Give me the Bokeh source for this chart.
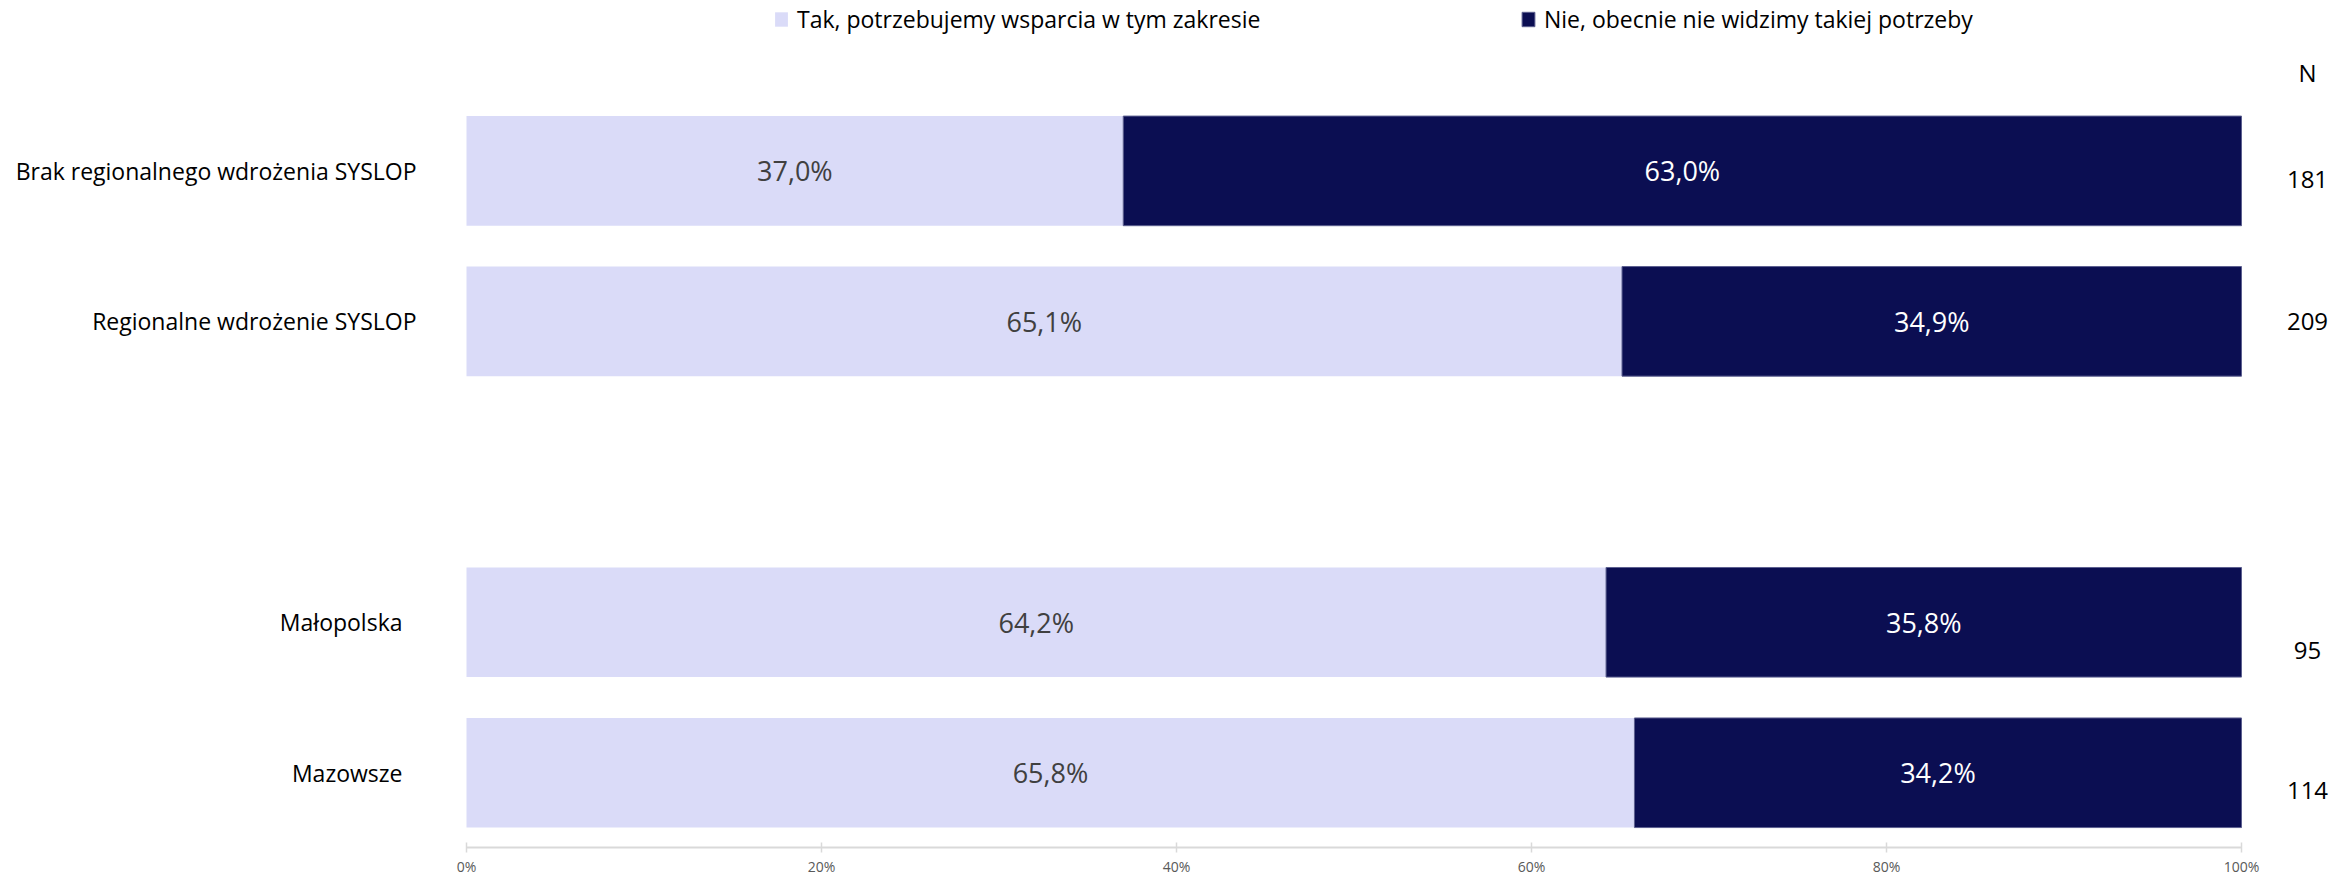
from bokeh.plotting import figure
from bokeh.models import (ColumnDataSource, Range1d, Legend, LegendItem,
                          FixedTicker, NumeralTickFormatter)
from bokeh.core.properties import value
from bokeh.embed import file_html
from bokeh.resources import INLINE

# ---------------- data ----------------
categories = ["Brak regionalnego wdrożenia SYSLOP", "Regionalne wdrożenie SYSLOP",
              "Małopolska", "Mazowsze"]
groups = [0, 0, 1, 1]                      # two blocks of rows, separated by a gap
tak = [37.0, 65.1, 64.2, 65.8]             # Tak, potrzebujemy wsparcia w tym zakresie
nie = [63.0, 34.9, 35.8, 34.2]             # Nie, obecnie nie widzimy takiej potrzeby
n_vals = [181, 209, 95, 114]
series_names = ["Tak, potrzebujemy wsparcia w tym zakresie",
                "Nie, obecnie nie widzimy takiej potrzeby"]
tick_values = [0, 0.2, 0.4, 0.6, 0.8, 1.0]

# ---------------- styles ----------------
LIGHT = "#DADBF8"
DARK = "#0B0E52"
FONT = "Open Sans"
label_pad = [-50, -50, -64, -64]           # px gap between category labels and bars
n_shift = [9, 0, 28, 18]                   # vertical px shift of the N labels

# row positions: rows top-down, one empty slot between the two blocks
n_rows = len(categories)
pos = []
for i, g in enumerate(groups):
    pos.append(float(n_rows - i - g))      # 4, 3, 1, 0

def pct(v):
    return f"{v:.1f}".replace(".", ",") + "%"

tak_f = [v / 100 for v in tak]
nie_f = [v / 100 for v in nie]

src = ColumnDataSource(dict(
    y=pos,
    cat=categories,
    tak=tak_f,
    nie_left=tak_f,
    nie_right=[a + b for a, b in zip(tak_f, nie_f)],
    tak_mid=[a / 2 for a in tak_f],
    nie_mid=[a + b / 2 for a, b in zip(tak_f, nie_f)],
    tak_lbl=[pct(v) for v in tak],
    nie_lbl=[pct(v) for v in nie],
    n=[str(v) for v in n_vals],
    one=[1.0] * n_rows,
    zero=[0.0] * n_rows,
    pad=label_pad,
    nshift=n_shift,
))

W, H = 2335, 878
frame_h = 850
x0 = -466 / 1775
x1 = 1 + (W - 2241) / 1775
y1 = 4 + 171 / 151
y0 = 4 - (frame_h - 171) / 151

p = figure(width=W, height=H, x_range=Range1d(x0, x1), y_range=Range1d(y0, y1),
           output_backend="svg", toolbar_location=None, y_axis_location=None,
           min_border=0, min_border_left=0, min_border_right=0,
           min_border_top=0, min_border_bottom=0)
p.outline_line_color = None
p.xgrid.grid_line_color = None
p.ygrid.grid_line_color = None
p.background_fill_color = "white"

bh = 110 / 151
r1 = p.hbar(y="y", left="zero", right="tak", height=bh, source=src,
            fill_color=LIGHT, line_color=None)
r2 = p.hbar(y="y", left="nie_left", right="nie_right", height=bh, source=src,
            fill_color=DARK, line_color="#5c5f8f", line_width=1)

# value labels
p.text(x="tak_mid", y="y", text="tak_lbl", source=src, text_align="center",
       text_baseline="middle", text_font=value(FONT), text_font_size="27px",
       text_color="#404040")
p.text(x="nie_mid", y="y", text="nie_lbl", source=src, text_align="center",
       text_baseline="middle", text_font=value(FONT), text_font_size="27px",
       text_color="white")

# category labels
p.text(x="zero", y="y", text="cat", source=src, x_offset="pad", text_align="right",
       text_baseline="middle", text_font=value(FONT), text_font_size="23px",
       text_color="#000000")

# N column
p.text(x="one", y="y", text="n", source=src, x_offset=66, y_offset="nshift",
       text_align="center", text_baseline="middle", text_font=value(FONT),
       text_font_size="24px", text_color="#000000")
p.text(x=[1.0], y=[max(pos)], text=["N"], x_offset=66, y_offset=-98,
       text_align="center", text_baseline="middle", text_font=value(FONT),
       text_font_size="24px", text_color="#000000")

# axis
ax = p.xaxis[0]
ax.ticker = FixedTicker(ticks=tick_values)
ax.formatter = NumeralTickFormatter(format="0%")
ax.bounds = (0, 1)
ax.axis_line_color = "#d9d9d9"
ax.axis_line_width = 2
ax.major_tick_line_color = "#d9d9d9"
ax.major_tick_line_width = 1.5
ax.major_tick_in = 5
ax.major_tick_out = 5
ax.minor_tick_line_color = None
ax.major_label_standoff = 4
ax.major_label_text_font = FONT
ax.major_label_text_font_size = "14px"
ax.major_label_text_color = "#595959"

# legends (one per item, placed individually)
for r, name, lx in [(r1, series_names[0], 773), (r2, series_names[1], 1520)]:
    leg = Legend(items=[LegendItem(label=name, renderers=[r])],
                 location=(lx, frame_h - 38), orientation="horizontal",
                 padding=0, margin=0, spacing=0, label_standoff=8,
                 glyph_width=16, glyph_height=18, label_height=28,
                 border_line_color=None, background_fill_alpha=0,
                 label_text_font=FONT, label_text_font_size="23px",
                 label_text_color="#000000")
    p.add_layout(leg)

open("out.html", "w").write(file_html(p, INLINE))
